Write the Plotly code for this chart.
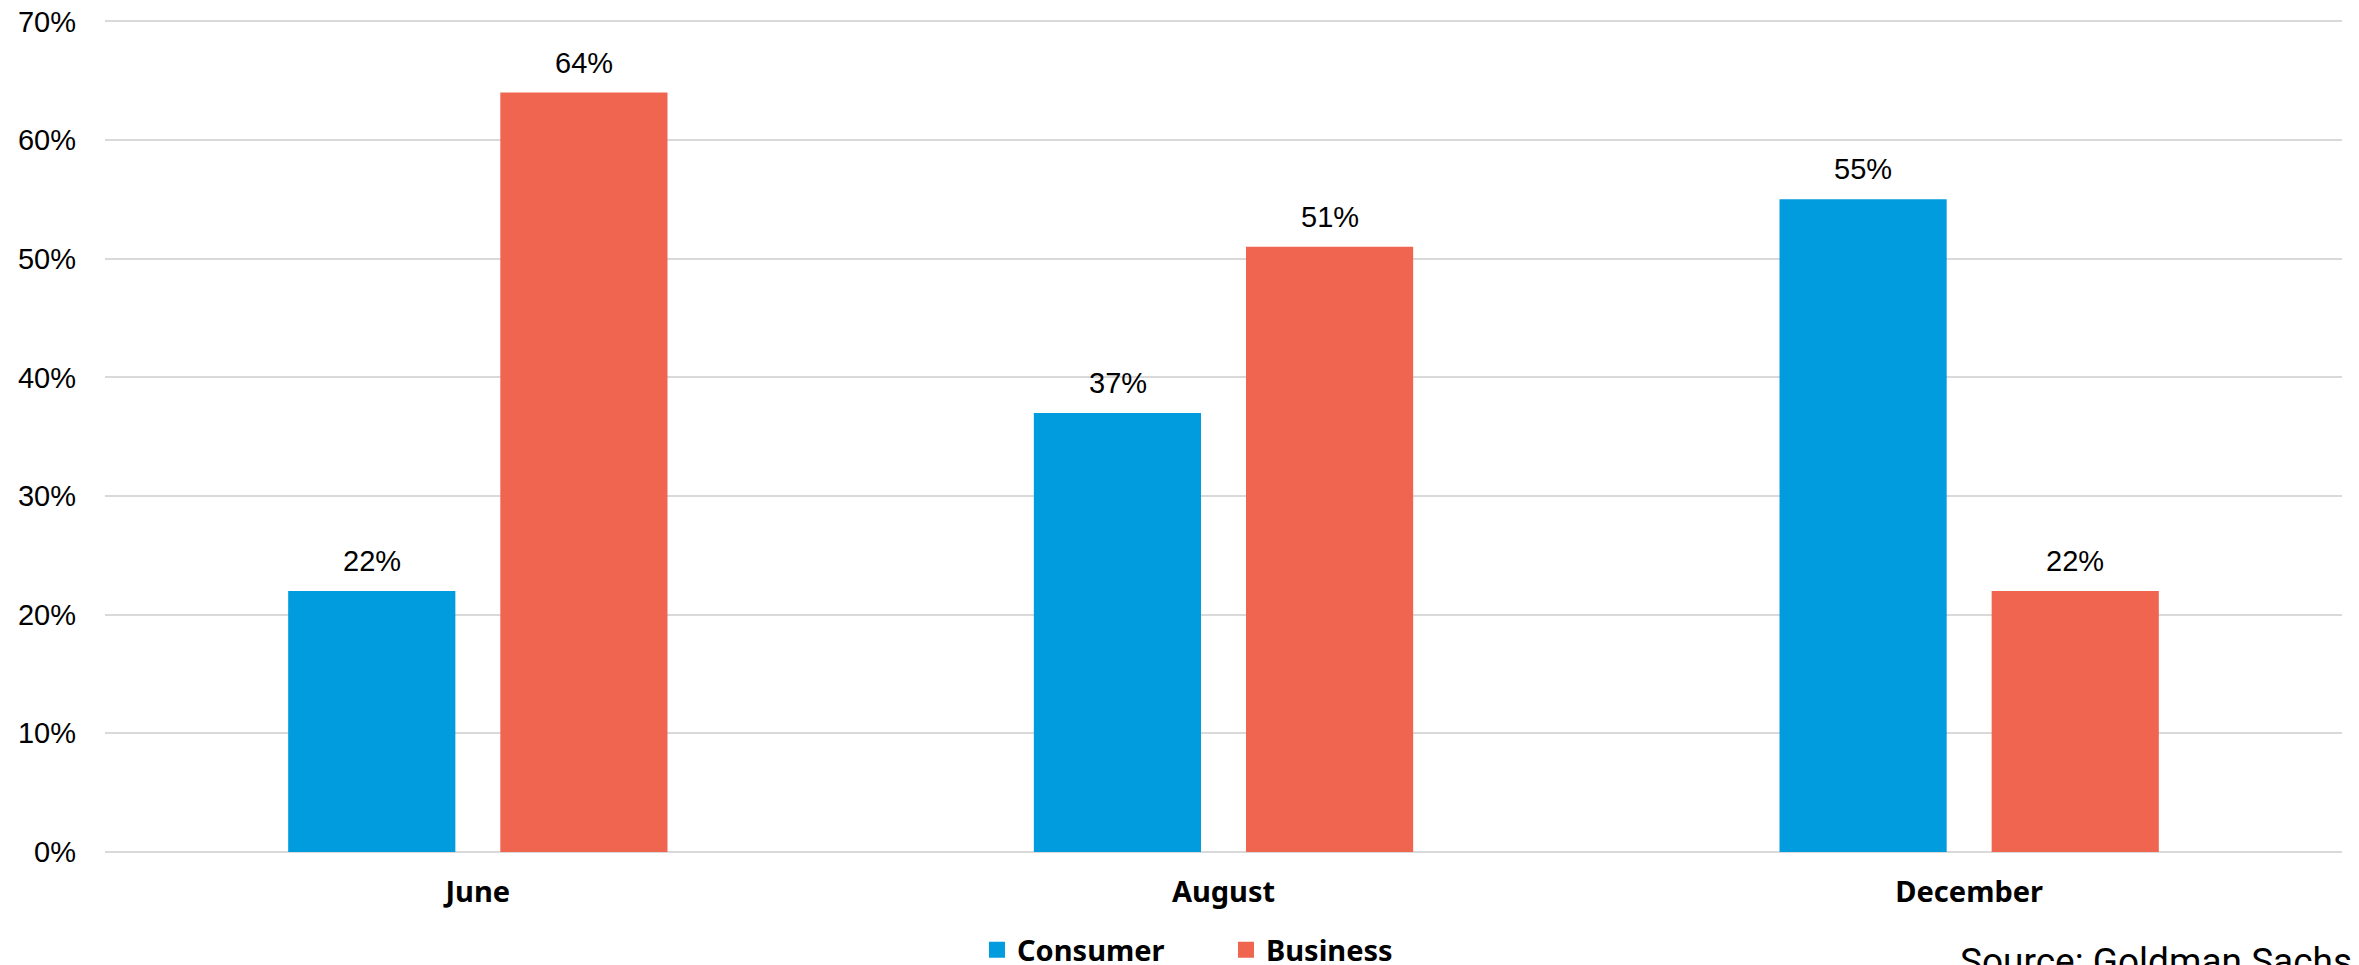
import plotly.graph_objects as go

categories = ["June", "August", "December"]
consumer = [22, 37, 55]
business = [64, 51, 22]
series_names = ["Consumer", "Business"]
y_ticks = [0, 10, 20, 30, 40, 50, 60, 70]
y_tick_labels = [f"{v}%" for v in y_ticks]
source_text = "Source: Goldman Sachs"

BLUE = "#009CDE"
RED = "#EF6550"
colors = [BLUE, RED]

fig = go.Figure()
for name, vals, col in zip(series_names, (consumer, business), colors):
    fig.add_trace(go.Bar(name=name, x=categories, y=vals, marker_color=col,
                         marker_line_width=0, showlegend=False))
# legend entries with larger square swatches
for name, col in zip(series_names, colors):
    fig.add_trace(go.Scatter(name=name, x=[None], y=[None], mode="markers",
                             marker=dict(symbol="square", size=17, color=col)))

# data labels above bars
shift = 106
for series, sx in ((consumer, -shift), (business, shift)):
    for c, v in zip(categories, series):
        fig.add_annotation(x=c, y=v, text=f"{v}%", showarrow=False, xshift=sx,
                           yanchor="bottom", yshift=12,
                           font=dict(family="Liberation Sans, Arial", size=29, color="#000"))

fig.add_annotation(xref="paper", yref="paper", x=0.8283, y=-0.103, xanchor="left", yanchor="top",
                   text=source_text, showarrow=False,
                   font=dict(family="Roboto", size=37, color="#000"))

fig.update_layout(
    width=2359, height=965,
    margin=dict(l=97, r=25, t=11, b=121, autoexpand=False),
    paper_bgcolor="white", plot_bgcolor="white",
    barmode="group", bargap=0.431, bargroupgap=0.212,
    showlegend=True,
    legend=dict(orientation="h", x=0.3898, xanchor="left", y=-0.1175, yanchor="middle",
                font=dict(family="Noto Sans", size=29, color="#000", weight="bold"),
                traceorder="normal", entrywidth=204, entrywidthmode="pixels"),
    xaxis=dict(showgrid=False, showline=False, zeroline=False, ticks="",
               tickfont=dict(family="Noto Sans", size=29, color="#000", weight="bold"),
               ticklabelstandoff=20),
    yaxis=dict(range=[0, 70.2], tickvals=y_ticks, ticktext=y_tick_labels,
               showgrid=True, gridcolor="#D9D9D9", gridwidth=1.5,
               zeroline=True, zerolinecolor="#D9D9D9", zerolinewidth=1.5,
               showline=False, ticks="", ticklabeloverflow="allow",
               tickfont=dict(family="Liberation Sans, Arial", size=29, color="#000"),
               ticklabelstandoff=28),
)

fig.write_html("out.html")
